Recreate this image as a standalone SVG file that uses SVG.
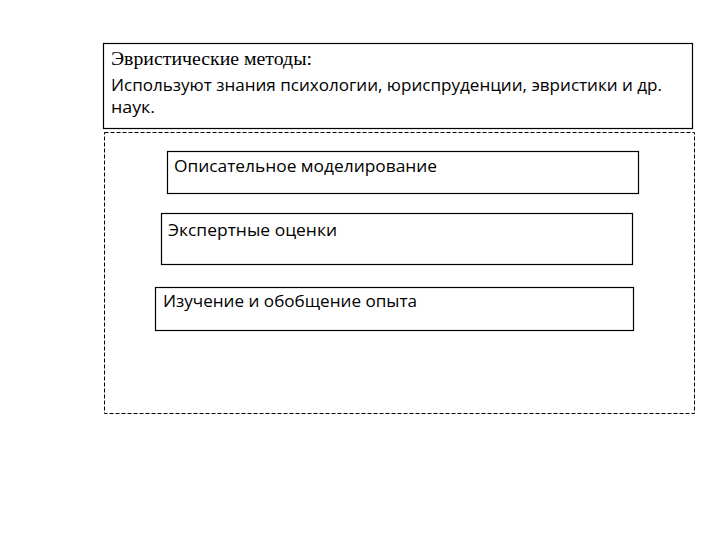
<svg xmlns="http://www.w3.org/2000/svg" width="720" height="540" viewBox="0 0 720 540">
<style>
.box{fill:#fff;stroke:#000;stroke-width:1.2}
.dash{fill:none;stroke:#000;stroke-width:1;stroke-dasharray:4,2}
.t{font-family:"Open Sans","Liberation Sans",sans-serif;font-size:16px;fill:#000}
.s{font-family:"Liberation Serif","Times New Roman",serif;font-size:18px;fill:#000}
</style>
<rect width="720" height="540" fill="#fff"/>
<g id="header">
<rect class="box" x="103.5" y="43.5" width="589" height="85"/>
<text class="s" x="111" y="65" textLength="201" lengthAdjust="spacingAndGlyphs">Эвристические методы:</text>
<text class="t" x="111" y="91" textLength="551" lengthAdjust="spacingAndGlyphs">Используют знания психологии, юриспруденции, эвристики и др.</text>
<text class="t" x="111" y="113" textLength="44" lengthAdjust="spacingAndGlyphs">наук.</text>
</g>
<g id="container">
<rect class="dash" x="104.5" y="132.5" width="590" height="281"/>
</g>
<g id="node1">
<rect class="box" x="167.5" y="151.5" width="471" height="42"/>
<text class="t" x="174" y="172" textLength="263" lengthAdjust="spacingAndGlyphs">Описательное моделирование</text>
</g>
<g id="node2">
<rect class="box" x="161.5" y="213.5" width="471" height="51"/>
<text class="t" x="168" y="236" textLength="169" lengthAdjust="spacingAndGlyphs">Экспертные оценки</text>
</g>
<g id="node3">
<rect class="box" x="155.5" y="287.5" width="478" height="43"/>
<text class="t" x="163" y="307" textLength="254" lengthAdjust="spacingAndGlyphs">Изучение и обобщение опыта</text>
</g>
<g id="connectors"></g>
</svg>
